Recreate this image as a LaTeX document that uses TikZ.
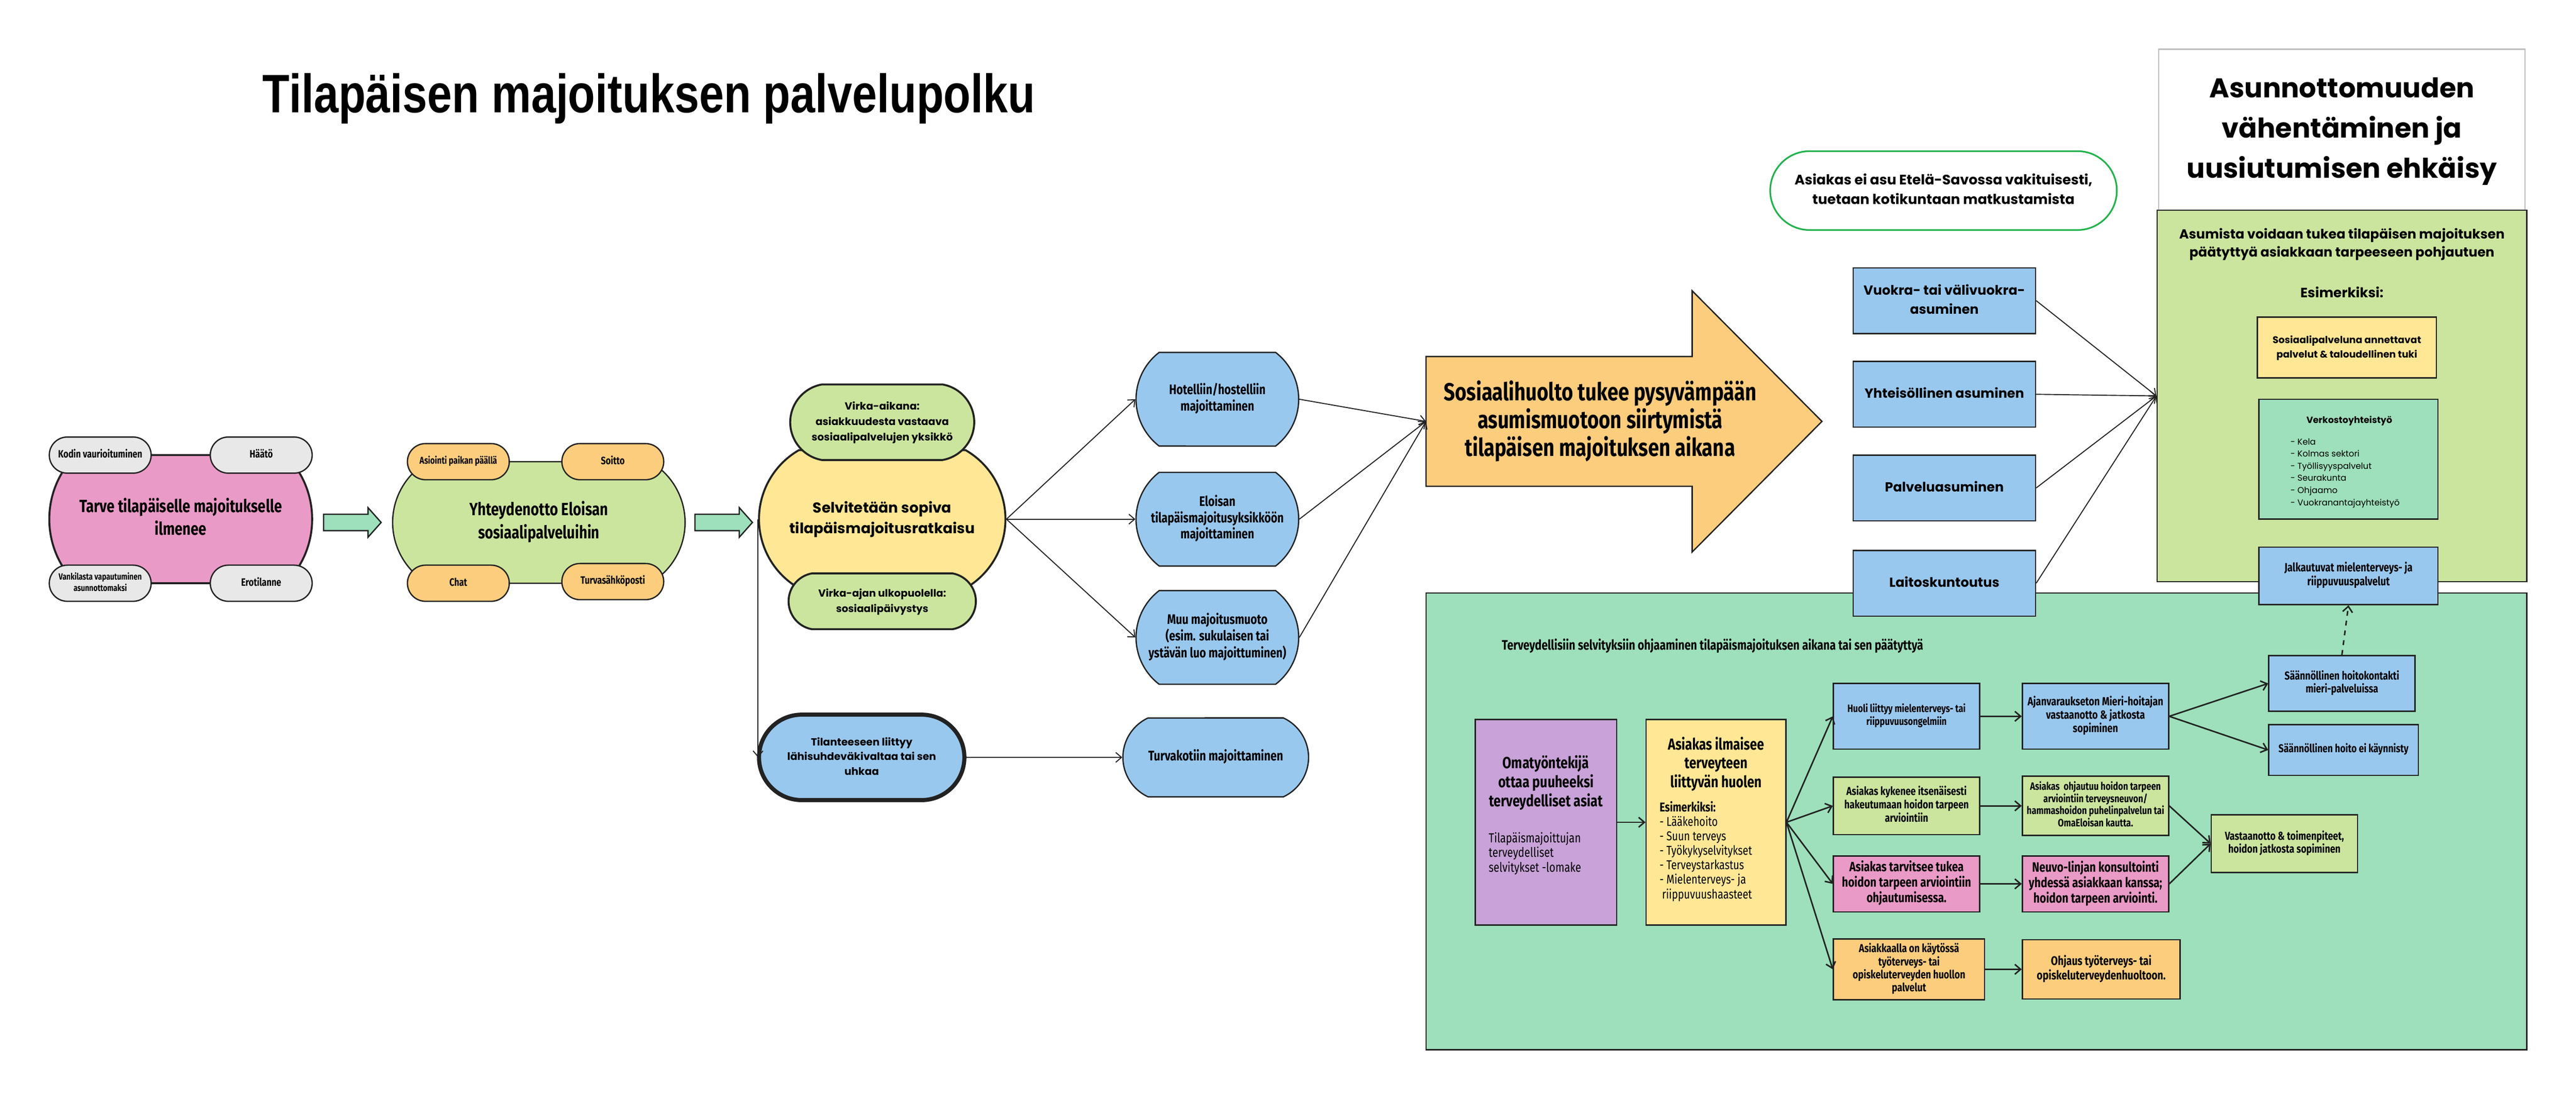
\documentclass[tikz,border=0pt]{standalone}
\usepackage{fontspec}
\setmainfont{Fira Sans}
\newfontfamily\condfont[FakeStretch=0.8]{Fira Sans}
\newfontfamily\widefont{Poppins}
\newfontfamily\titlefont[FakeStretch=0.82]{Liberation Sans}
\usetikzlibrary{shapes.misc, arrows.meta}

\definecolor{linec}{HTML}{222222}
\definecolor{pinkc}{HTML}{EA9AC6}
\definecolor{greyc}{HTML}{E8E8E8}
\definecolor{limec}{HTML}{CBE59E}
\definecolor{orangec}{HTML}{FCCD7D}
\definecolor{yellowc}{HTML}{FFE795}
\definecolor{bluec}{HTML}{99C8EE}
\definecolor{mintc}{HTML}{9DE0BB}
\definecolor{purplec}{HTML}{C8A2D8}
\definecolor{greenline}{HTML}{22B24C}
\definecolor{boxgray}{HTML}{BDBDBD}

\newcommand{\condb}[2]{\condfont\bfseries\fontsize{#1}{#2}\selectfont}
\newcommand{\condr}[2]{\condfont\fontsize{#1}{#2}\selectfont}
\newcommand{\wideb}[2]{\widefont\bfseries\fontsize{#1}{#2}\selectfont}
\newcommand{\wider}[2]{\widefont\fontsize{#1}{#2}\selectfont}
\newcommand{\txtc}[1]{\makebox[0pt]{\begin{tabular}{@{}c@{}}#1\end{tabular}}}
\newcommand{\txtl}[1]{\begin{tabular}{@{}l@{}}#1\end{tabular}}

\tikzset{
  outline/.style={draw=linec, line width=0.8pt},
  bubble/.style={outline, rounded rectangle, align=center, inner sep=0pt},
  pill/.style={bubble, rounded rectangle arc length=180, minimum width=62pt, minimum height=22pt},
  stay/.style={bubble, fill=bluec, rounded rectangle arc length=105, minimum width=99pt, minimum height=57pt, font=\condb{8.4}{10}},
  box/.style={outline, rectangle, align=center, inner sep=0pt},
  housing/.style={box, fill=bluec, minimum width=111pt, minimum height=40pt, font=\wideb{8}{11.5}},
  conn/.style={draw=linec, line width=0.6pt, -{Straight Barb[length=3.5pt,width=6pt]}},
  connthick/.style={conn, line width=0.9pt},
  blockarrow/.style={outline, fill=mintc},
}

\begin{document}
\begin{tikzpicture}[x=1pt, y=-1pt]
\useasboundingbox[fill=white] (0,0) rectangle (1568,670);

% otsikko
\node[font=\titlefont\bfseries\fontsize{33}{38}\selectfont] (otsikko) at (395,60) {Tilapäisen majoituksen palvelupolku};

% tarve
\node[bubble, fill=pinkc, line width=1.2pt, rounded rectangle arc length=90,
  minimum width=160pt, minimum height=78pt, font=\condb{10.8}{14}] (tarve) at (110,316)
  {\txtc{Tarve tilapäiselle majoitukselle\\ilmenee}};
\node[pill, fill=greyc, font=\condb{6.5}{8}] (kodin) at (61,277) {\txtc{Kodin vaurioituminen}};
\node[pill, fill=greyc, font=\condb{6.5}{8}] (haato) at (159,277) {\txtc{Häätö}};
\node[pill, fill=greyc, font=\condb{5.5}{7}] (vankila) at (61,355) {\txtc{Vankilasta vapautuminen\\asunnottomaksi}};
\node[pill, fill=greyc, font=\condb{6.5}{8}] (ero) at (159,355) {\txtc{Erotilanne}};

\draw[blockarrow] (197,313) -- (224,313) -- (224,309) -- (232,318) -- (224,327) -- (224,323) -- (197,323) -- cycle;

% yhteydenotto
\node[bubble, fill=limec, rounded rectangle arc length=120,
  minimum width=178pt, minimum height=74pt, font=\condb{10.8}{14}] (yhteys) at (328,318)
  {\txtc{Yhteydenotto Eloisan\\sosiaalipalveluihin}};
\node[pill, fill=orangec, font=\condb{6}{7.5}] (asiointi) at (279,281) {\txtc{Asiointi paikan päällä}};
\node[pill, fill=orangec, font=\condb{6.5}{8}] (soitto) at (373,281) {\txtc{Soitto}};
\node[pill, fill=orangec, font=\condb{6.5}{8}] (chat) at (279,355) {\txtc{Chat}};
\node[pill, fill=orangec, font=\condb{6.5}{8}] (turvaposti) at (373,354) {\txtc{Turvasähköposti}};

\draw[blockarrow] (423,313) -- (450,313) -- (450,309) -- (458,318) -- (450,327) -- (450,323) -- (423,323) -- cycle;

% selvitys
\node[bubble, fill=yellowc, line width=1.2pt, rounded rectangle arc length=120,
  minimum width=150pt, minimum height=84pt, font=\wideb{8.8}{12.5}] (selvitys) at (537,316)
  {\txtc{Selvitetään sopiva\\tilapäismajoitusratkaisu}};
\node[bubble, fill=limec, line width=1.2pt, rounded rectangle arc length=160,
  minimum width=112pt, minimum height=46pt, font=\wideb{6.3}{9.5}] (virka) at (537,257)
  {\txtc{Virka-aikana:\\asiakkuudesta vastaava\\sosiaalipalvelujen yksikkö}};
\node[bubble, fill=limec, line width=1.2pt, rounded rectangle arc length=160,
  minimum width=114pt, minimum height=34pt, font=\wideb{6.2}{9.5}] (paivystys) at (537,366)
  {\txtc{Virka-ajan ulkopuolella:\\sosiaalipäivystys}};
\node[bubble, fill=bluec, line width=2.5pt, rounded rectangle arc length=180,
  minimum width=125pt, minimum height=52pt, font=\wideb{6.3}{9}] (lahisuhde) at (524.5,461)
  {\txtc{Tilanteeseen liittyy\\lähisuhdeväkivaltaa tai sen\\uhkaa}};

% majoitusvaihtoehdot
\node[stay] (hotelli) at (741,243) {\txtc{Hotelliin/hostelliin\\majoittaminen}};
\node[stay] (eloisa) at (741,316) {\txtc{Eloisan\\tilapäismajoitusyksikköön\\majoittaminen}};
\node[stay] (muu) at (741,388) {\txtc{Muu majoitusmuoto\\(esim. sukulaisen tai\\ystävän luo majoittuminen)}};
\node[stay, rounded rectangle arc length=130, minimum width=113pt, minimum height=48pt, font=\condb{8.5}{10}] (turvakoti) at (740,461) {\txtc{Turvakotiin majoittaminen}};

\draw[conn] (selvitys.east) -- (hotelli.west);
\draw[conn] (selvitys.east) -- (eloisa.west);
\draw[conn] (selvitys.east) -- (muu.west);
\draw[conn] (selvitys.west) -- (selvitys.west |- lahisuhde.west);
\draw[conn] (lahisuhde.east) -- (turvakoti.west);

% sosiaalihuolto
\draw[outline, fill=orangec] (868,217) -- (1030,217) -- (1030,177) -- (1109,256.5) -- (1030,336) -- (1030,296) -- (868,296) -- cycle;
\coordinate (nuolikanta) at (868,256.5);
\node[font=\condb{15}{15.5}] (sosiaali) at (974,257)
  {\txtc{Sosiaalihuolto tukee pysyvämpään\\asumismuotoon siirtymistä\\tilapäisen majoituksen aikana}};
\draw[conn] (hotelli.east) -- (nuolikanta);
\draw[conn] (eloisa.east) -- (nuolikanta);
\draw[conn] (muu.east) -- (nuolikanta);

% asuminen
\node[bubble, rounded rectangle arc length=180, draw=greenline, line width=1pt, fill=white,
  minimum width=211pt, minimum height=48pt, font=\wideb{8.4}{12}] (kotikunta) at (1183,116)
  {\txtc{Asiakas ei asu Etelä-Savossa vakituisesti,\\tuetaan kotikuntaan matkustamista}};

\node[box, draw=boxgray, fill=white, minimum width=223pt, minimum height=98pt,
  font=\wideb{16.5}{24.5}] (ehkaisy) at (1425.5,79)
  {\txtc{Asunnottomuuden\\vähentäminen ja\\uusiutumisen ehkäisy}};
\node[box, fill=limec, minimum width=225pt, minimum height=226pt] (tuki) at (1425.5,241) {};
\node[font=\wideb{8}{11}] (tukiteksti) at (1425.5,148.5)
  {\txtc{Asumista voidaan tukea tilapäisen majoituksen\\päätyttyä asiakkaan tarpeeseen pohjautuen}};
\node[font=\wideb{8.2}{9}] (esim) at (1425.5,178) {Esimerkiksi:};
\node[box, fill=yellowc, minimum width=109pt, minimum height=37pt, font=\wideb{5.9}{8.8}] (sospalv) at (1428.5,211.5)
  {\txtc{Sosiaalipalveluna annettavat\\palvelut \& taloudellinen tuki}};
\node[box, fill=mintc, minimum width=109pt, minimum height=73pt] (verkosto) at (1429.5,279.5) {};
\node[font=\wideb{5.5}{6}] (verkostootsikko) at (1430,256) {Verkostoyhteistyö};
\node[font=\wider{5.2}{7.4}, anchor=north west, inner sep=0pt] (verkostolista) at (1394,265.3)
  {\txtl{- Kela\\- Kolmas sektori\\- Työllisyyspalvelut\\- Seurakunta\\- Ohjaamo\\- Vuokranantajayhteistyö}};

% terveys
\node[box, fill=mintc, minimum width=670pt, minimum height=278pt] (terveys) at (1203,500) {};
\node[font=\condb{8.4}{10}, anchor=west, inner sep=0pt] (tervotsikko) at (914,393)
  {Terveydellisiin selvityksiin ohjaaminen tilapäismajoituksen aikana tai sen päätyttyä};

\node[housing] (vuokra) at (1183.5,183) {\txtc{Vuokra- tai välivuokra-\\asuminen}};
\node[housing] (yhteisollinen) at (1183.5,240) {\txtc{Yhteisöllinen asuminen}};
\node[housing] (palvelu) at (1183.5,297) {\txtc{Palveluasuminen}};
\node[housing] (laitos) at (1183.5,355) {\txtc{Laitoskuntoutus}};
\draw[conn] (vuokra.east) -- (tuki.west);
\draw[conn] (yhteisollinen.east) -- (tuki.west);
\draw[conn] (palvelu.east) -- (tuki.west);
\draw[conn] (laitos.east) -- (tuki.west);

\node[box, fill=bluec, minimum width=109pt, minimum height=35pt, font=\condb{7.3}{8.6}] (jalka) at (1429.5,350.5)
  {\txtc{Jalkautuvat mielenterveys- ja\\riippuvuuspalvelut}};

\node[box, fill=purplec, minimum width=86pt, minimum height=125pt] (oma) at (941,500.5) {};
\node[font=\condb{9.8}{11.5}] (omaotsikko) at (941,477)
  {\txtc{Omatyöntekijä\\ottaa puuheeksi\\terveydelliset asiat}};
\node[font=\condr{8}{8.7}, anchor=north west, inner sep=0pt] (lomake) at (906,506.5)
  {\txtl{Tilapäismajoittujan\\terveydelliset\\selvitykset -lomake}};

\node[box, fill=yellowc, minimum width=85pt, minimum height=125pt] (huoli) at (1044.5,500.5) {};
\node[font=\condb{9.7}{11.5}] (huoliotsikko) at (1044.5,465.5)
  {\txtc{Asiakas ilmaisee\\terveyteen\\liittyvän huolen}};
\node[font=\condr{7.8}{8.8}, anchor=north west, inner sep=0pt] (huolilista) at (1010,487.6)
  {\txtl{\textbf{Esimerkiksi:}\\- Lääkehoito\\- Suun terveys\\- Työkykyselvitykset\\- Terveystarkastus\\- Mielenterveys- ja\\\hspace{1.5pt}riippuvuushaasteet}};
\draw[connthick] (oma.east) -- (huoli.west);

\node[box, fill=bluec, minimum width=89pt, minimum height=40pt, font=\condb{6.5}{7.8}] (mieli) at (1160.5,436)
  {\txtc{Huoli liittyy mielenterveys- tai\\riippuvuusongelmiin}};
\node[box, fill=limec, minimum width=89pt, minimum height=35pt, font=\condb{7}{7.8}] (kykenee) at (1160.5,490.5)
  {\txtc{Asiakas kykenee itsenäisesti\\hakeutumaan hoidon tarpeen\\arviointiin}};
\node[box, fill=pinkc, minimum width=89pt, minimum height=34pt, font=\condb{8.2}{9.2}] (tarvitsee) at (1160.5,538)
  {\txtc{Asiakas tarvitsee tukea\\hoidon tarpeen arviointiin\\ohjautumisessa.}};
\node[box, fill=orangec, minimum width=92pt, minimum height=37pt, font=\condb{7}{7.8}] (tyoterv) at (1162,590)
  {\txtc{Asiakkaalla on käytössä\\työterveys- tai\\opiskeluterveyden huollon\\palvelut}};
\draw[connthick] (huoli.east) -- (mieli.west);
\draw[connthick] (huoli.east) -- (kykenee.west);
\draw[connthick] (huoli.east) -- (tarvitsee.west);
\draw[connthick] (huoli.east) -- (tyoterv.west);

\node[box, fill=bluec, minimum width=89pt, minimum height=40pt, font=\condb{7.2}{7.8}] (mieri) at (1275.5,436)
  {\txtc{Ajanvaraukseton Mieri-hoitajan\\vastaanotto \& jatkosta\\sopiminen}};
\node[box, fill=limec, minimum width=89pt, minimum height=36pt, font=\condb{6.5}{7}] (ohjautuu) at (1275.5,490.5)
  {\txtc{Asiakas\ \ ohjautuu hoidon tarpeen\\arviointiin terveysneuvon/\\hammashoidon puhelinpalvelun tai\\OmaEloisan kautta.}};
\node[box, fill=pinkc, minimum width=89pt, minimum height=34pt, font=\condb{8.3}{8.8}] (neuvo) at (1275.5,538)
  {\txtc{Neuvo-linjan konsultointi\\yhdessä asiakkaan kanssa;\\hoidon tarpeen arviointi.}};
\node[box, fill=orangec, minimum width=96pt, minimum height=36pt, font=\condb{7.6}{8.2}] (ohjaus) at (1279,590)
  {\txtc{Ohjaus työterveys- tai\\opiskeluterveydenhuoltoon.}};
\draw[connthick] (mieli.east) -- (mieri.west);
\draw[connthick] (kykenee.east) -- (ohjautuu.west);
\draw[connthick] (tarvitsee.east) -- (neuvo.west);
\draw[connthick] (tyoterv.east) -- (ohjaus.west);

\node[box, fill=bluec, minimum width=89pt, minimum height=34pt, font=\condb{7}{7.8}] (hoitokontakti) at (1425.5,416)
  {\txtc{Säännöllinen hoitokontakti\\mieri-palveluissa}};
\node[box, fill=bluec, minimum width=91pt, minimum height=31pt, font=\condb{6.9}{7.8}] (eikaynnisty) at (1426.5,456.5)
  {\txtc{Säännöllinen hoito ei käynnisty}};
\node[box, fill=limec, minimum width=89pt, minimum height=35pt, font=\condb{7}{7.8}] (vastaanotto) at (1390.5,513.5)
  {\txtc{Vastaanotto \& toimenpiteet,\\hoidon jatkosta sopiminen}};
\draw[connthick] (mieri.east) -- (hoitokontakti.west);
\draw[connthick] (mieri.east) -- (eikaynnisty.west);
\draw[connthick] (ohjautuu.east) -- (vastaanotto.west);
\draw[connthick] (neuvo.east) -- (vastaanotto.west);
\draw[connthick, dashed] (hoitokontakti.north) -- (jalka.south);

\end{tikzpicture}
\end{document}
